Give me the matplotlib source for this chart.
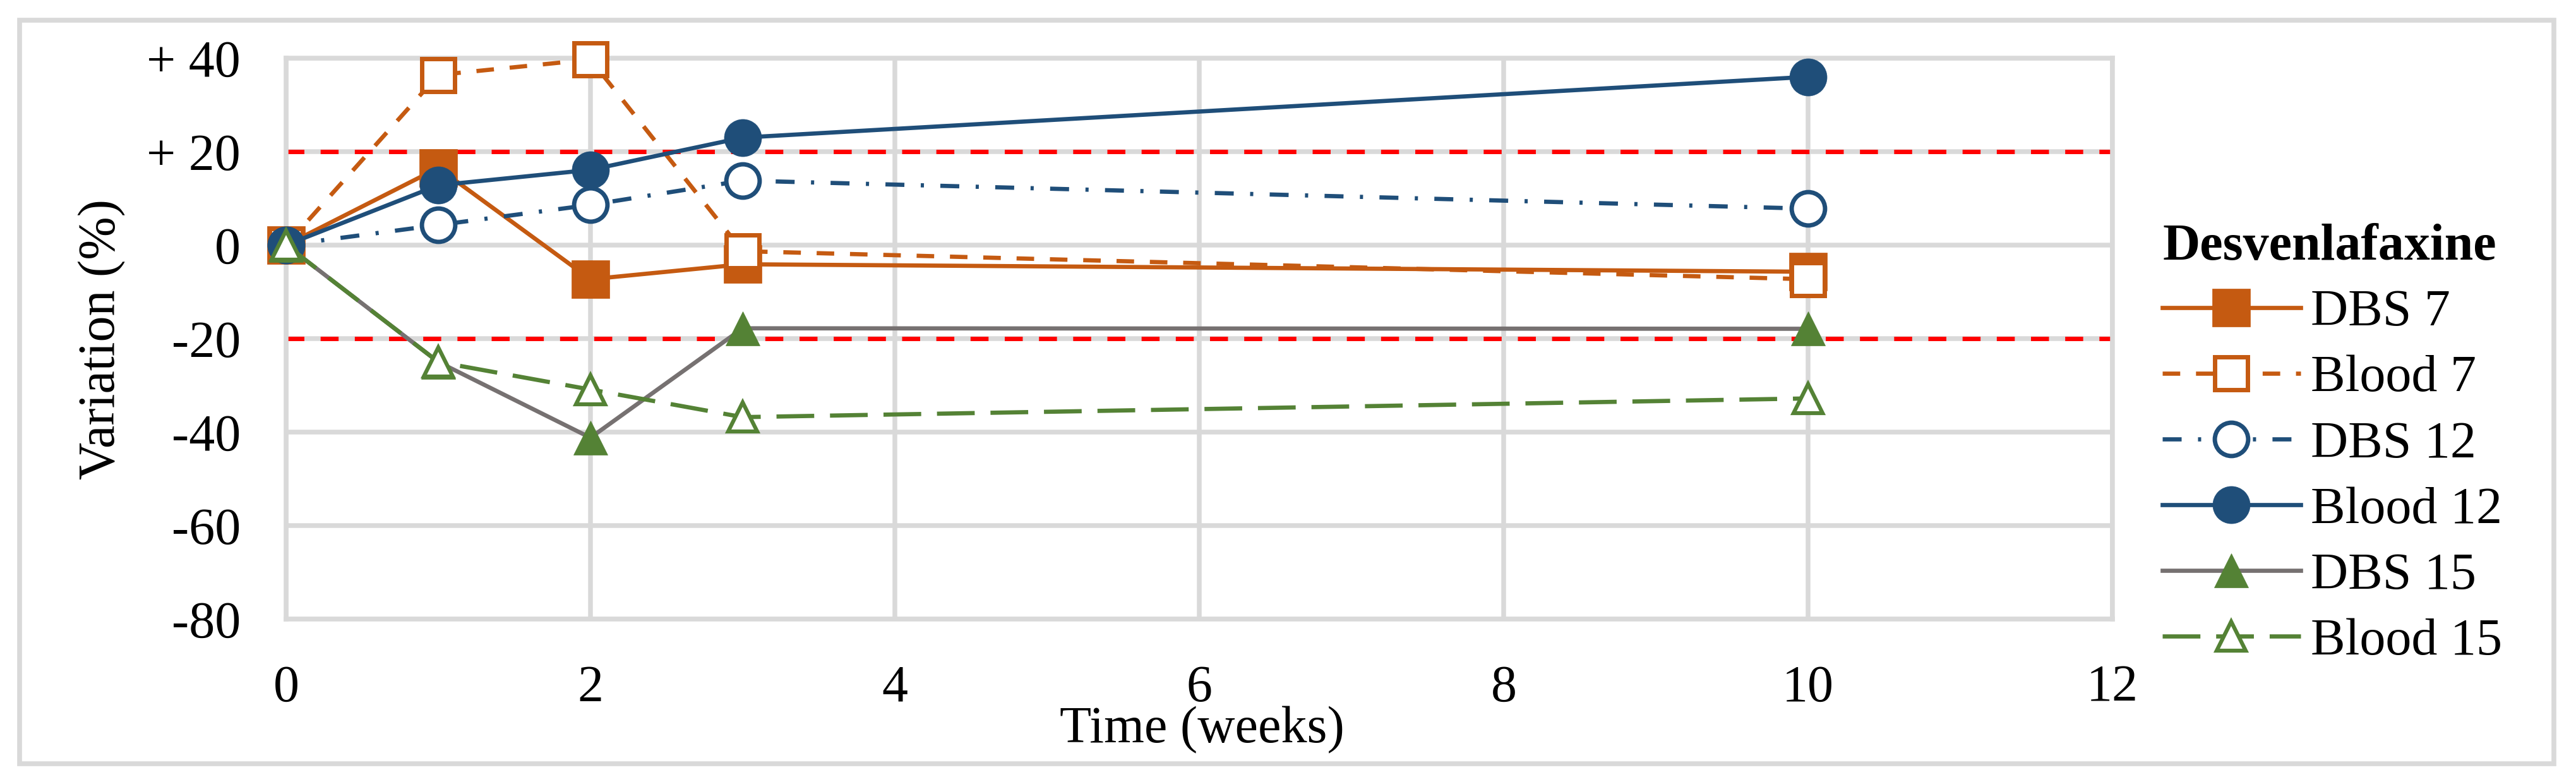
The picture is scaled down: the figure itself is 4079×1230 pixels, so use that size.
import matplotlib
matplotlib.use('Agg')
import matplotlib.pyplot as plt
from matplotlib.patches import Rectangle

plt.rcParams['font.family'] = ['Liberation Serif', 'DejaVu Serif']
plt.rcParams['lines.scale_dashes'] = False

# ---- data ----
weeks = [0, 1, 2, 3, 10]
dbs7 = [0, 16.5, -7.3, -4.1, -5.7]
blood7 = [0, 36.4, 39.7, -1.3, -7.3]
dbs12 = [0, 4.3, 8.6, 13.8, 7.8]
blood12 = [0, 12.8, 16.1, 23.0, 36.0]
dbs15 = [0, -25.0, -41.2, -17.8, -17.9]
blood15 = [0, -25.0, -30.9, -36.8, -32.8]

series_labels = ['DBS 7', 'Blood 7', 'DBS 12', 'Blood 12', 'DBS 15', 'Blood 15']
legend_title = 'Desvenlafaxine'
x_ticks = [0, 2, 4, 6, 8, 10, 12]
y_ticks = [-80, -60, -40, -20, 0, 20, 40]
y_tick_labels = ['-80', '-60', '-40', '-20', '0', '+ 20', '+ 40']
limit_lines = [20, -20]

# ---- figure ----
W, H = 4079, 1230
fig = plt.figure(figsize=(W / 100, H / 100), dpi=100)
ax = fig.add_axes([453 / W, (H - 980) / H, (3345 - 453) / W, (980 - 92) / H])

c_or = '#C55A11'
c_bl = '#1F4E79'
c_gr = '#548235'
c_gy = '#767171'
grid_c = '#D9D9D9'
FS = 59

ax.set_xlim(0, 12)
ax.set_ylim(-80, 40)
ax.set_xticks(x_ticks)
ax.set_yticks(y_ticks)
ax.set_yticklabels(y_tick_labels)
ax.grid(True, color=grid_c, lw=5.4)
ax.set_axisbelow(True)
for s in ax.spines.values():
    s.set_color(grid_c)
    s.set_linewidth(5.4)
ax.tick_params(length=0, labelsize=FS, pad=52)

for yv in limit_lines:
    ax.axhline(yv, color='#FF0000', lw=5, ls=(0, (20.5, 18.5)), zorder=1.5)

lw = 4.8
common = dict(clip_on=False, zorder=3)
h1, = ax.plot(weeks, dbs7, color=c_or, lw=lw, ls='-', marker='s', ms=42.5,
              mfc=c_or, mec=c_or, mew=0.5, label=series_labels[0], **common)
h2, = ax.plot(weeks, blood7, color=c_or, lw=lw, ls=(0, (20, 18)), marker='s', ms=37.5,
              mfc='white', mec=c_or, mew=5, label=series_labels[1], **common)
h3, = ax.plot(weeks, dbs12, color=c_bl, lw=lw, ls=(0, (21.6, 18.7, 3.6, 18.7)), marker='o',
              ms=38, mfc='white', mec=c_bl, mew=5, label=series_labels[2], **common)
h4, = ax.plot(weeks, blood12, color=c_bl, lw=lw, ls='-', marker='o', ms=42.5,
              mfc=c_bl, mec=c_bl, mew=0.5, label=series_labels[3], **common)
h5, = ax.plot(weeks, dbs15, color=c_gy, lw=lw, ls='-', marker='^', ms=39,
              mfc=c_gr, mec=c_gr, mew=0.5, label=series_labels[4], **common)
h6, = ax.plot(weeks, blood15, color=c_gr, lw=lw, ls=(0, (43, 18)), marker='^', ms=33,
              mfc='white', mec=c_gr, mew=4.5, label=series_labels[5], **common)

leg = ax.legend(handles=[h1, h2, h3, h4, h5, h6], labels=series_labels,
                title=legend_title, loc='upper left',
                bbox_to_anchor=(3424 / W, 1 - 354 / H), bbox_transform=fig.transFigure,
                frameon=False, fontsize=FS,
                title_fontproperties={'weight': 'bold', 'size': FS},
                alignment='left', handlelength=2.67, handletextpad=0.2,
                labelspacing=0.35, borderpad=0, borderaxespad=0, numpoints=1)

fig.text(162 / W, 1 - 537 / H, 'Variation (%)', rotation=90, ha='center', va='center', fontsize=FS)
fig.text(1903 / W, 1 - 1156 / H, 'Time (weeks)', ha='center', va='center', fontsize=FS)

fig.patches.append(Rectangle((31 / W, 1 - 1209 / H), (4044 - 31) / W, (1209 - 32) / H,
                             transform=fig.transFigure, fill=False, ec=grid_c, lw=5.5))

fig.savefig('out.png', dpi=100)
